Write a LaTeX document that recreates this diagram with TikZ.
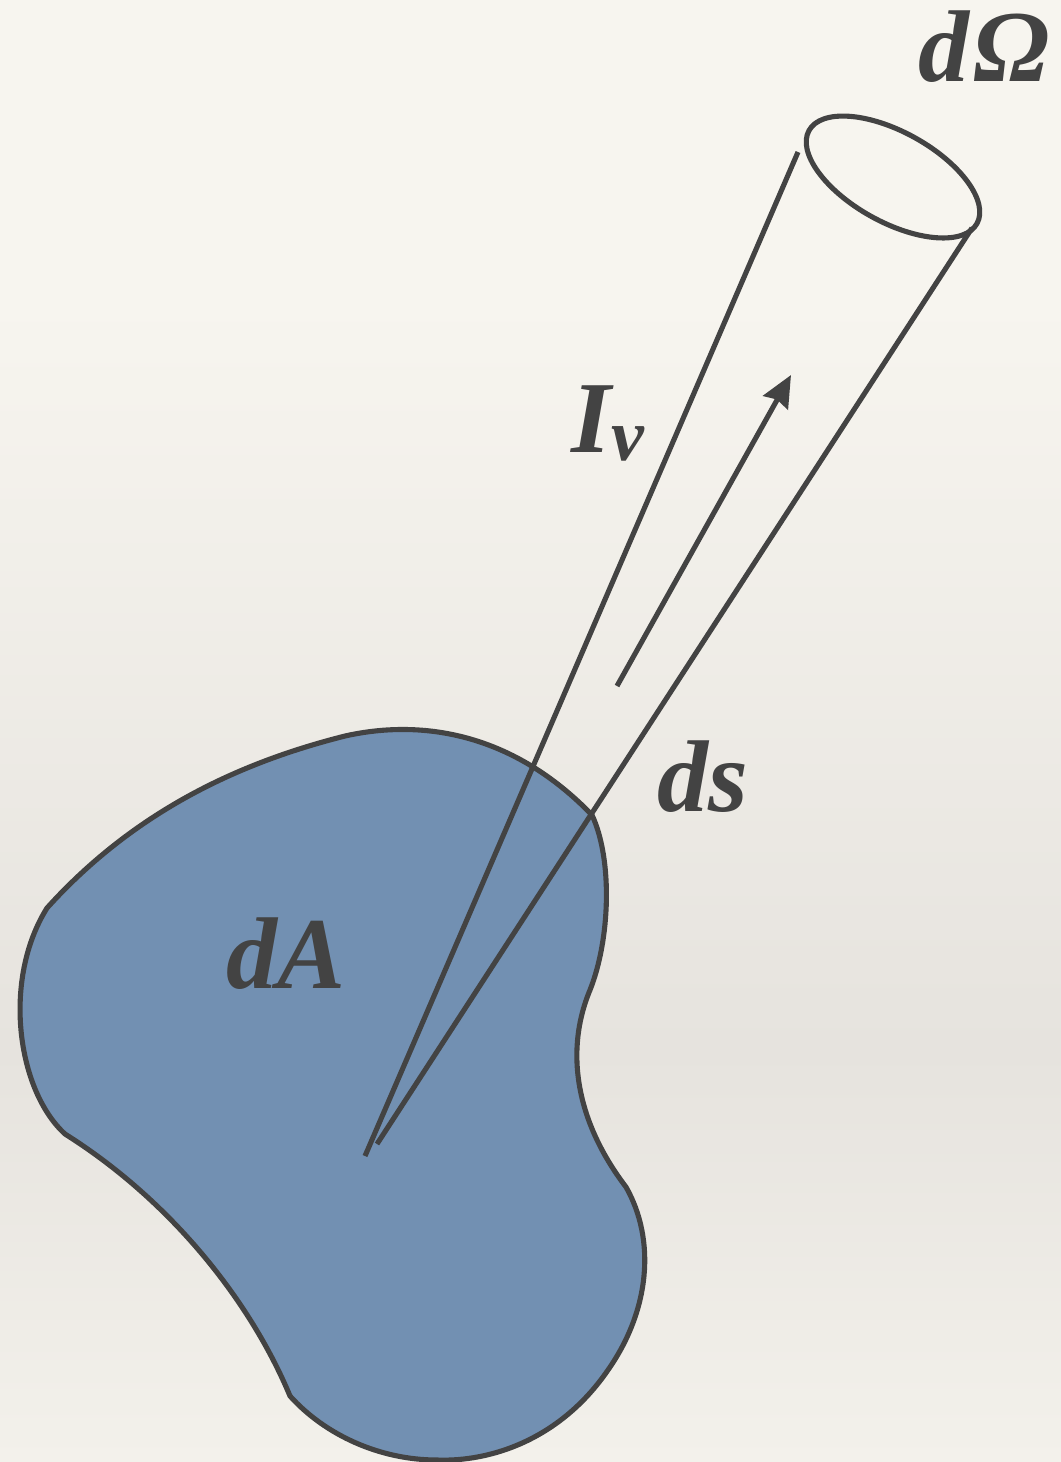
\documentclass[tikz,border=0pt]{standalone}
\usepackage{fontspec}
\setmainfont{Liberation Serif}
\usepackage{xcolor}
\usetikzlibrary{arrows.meta}
\definecolor{paperTop}{HTML}{F7F5EF}
\definecolor{paperMid}{HTML}{E6E3DE}
\definecolor{paperLow}{HTML}{F3F1EB}
\definecolor{patchBlue}{HTML}{7290B2}
\definecolor{inkGray}{HTML}{434343}
\tikzset{
	inkline/.style={draw=inkGray, line width=1.45pt},
	biglabel/.style={text=inkGray, anchor=base west, inner sep=0pt, font=\fontsize{29}{31}\selectfont\bfseries\itshape}
}

\begin{document}
\begin{tikzpicture}[x=0.01cm, y=-0.01cm]
	\useasboundingbox (0,0) rectangle (1061,1462);
	\fill[paperTop] (0,0) rectangle (1061,300);
	\shade[top color=paperTop, bottom color=paperMid] (0,300) rectangle (1061,1050);
	\shade[top color=paperMid, bottom color=paperLow] (0,1050) rectangle (1061,1462);

	\coordinate (tipA) at (365,1156);
	\coordinate (tipB) at (377,1144);
	\coordinate (rimA) at (798,152);
	\coordinate (rimB) at (972,228);
	\coordinate (rayS) at (617,686);
	\coordinate (rayE) at (791,375);
	\coordinate (rimC) at (893,177);

	\draw[inkline, fill=patchBlue] (47,908)
		.. controls (140,805) and (250,760) .. (345,736)
		.. controls (425,718) and (515,735) .. (592,815)
		.. controls (613,860) and (610,940) .. (590,990)
		.. controls (565,1050) and (575,1120) .. (626,1187)
		.. controls (656,1240) and (650,1310) .. (608,1370)
		.. controls (560,1440) and (490,1462) .. (437,1460)
		.. controls (380,1460) and (325,1435) .. (290,1396)
		.. controls (250,1300) and (170,1200) .. (65,1134)
		.. controls (17,1090) and (2,980) .. (47,908) -- cycle;

	\draw[inkline] (tipA) -- (rimA);
	\draw[inkline] (tipB) -- (rimB);
	\draw[inkline, -{Stealth[length=9pt, width=8pt, inset=1pt]}] (rayS) -- (rayE);
	\draw[inkline, shift={(rimC)}, rotate=-29] (0,0) circle [x radius=96, y radius=45];

	\node[biglabel] (omegaL) at (918,81) {d\kern1pt Ω};
	\node[biglabel] (intenL) at (571,452) {I};
	\node[biglabel, font=\fontsize{21}{23}\selectfont\bfseries\itshape] (intenS) at (611,460) {v};
	\node[biglabel] (dsL) at (657,811) {ds};
	\node[biglabel] (areaL) at (226,988) {dA};
\end{tikzpicture}
\end{document}
